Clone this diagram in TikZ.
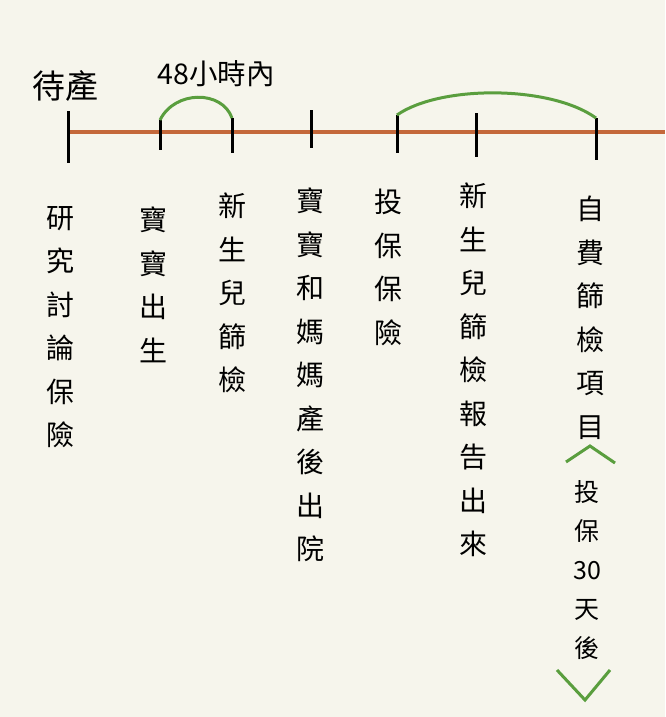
\documentclass[tikz,border=0pt]{standalone}
\usepackage{fontspec}
\newfontfamily\cjk{Noto Sans CJK TC}
\definecolor{bg}{HTML}{F6F5EC}
\definecolor{timeline}{HTML}{C4683A}
\definecolor{arcgreen}{HTML}{5A9E3E}
\begin{document}
\begin{tikzpicture}[x=1pt,y=-1pt,
  tickline/.style={line width=3pt, black},
  mainline/.style={line width=3.2pt, timeline},
  arcline/.style={line width=3pt, arcgreen},
  coltext/.style={font=\cjk\fontsize{28}{43.5}\selectfont, align=center, inner sep=0pt, anchor=north},
  smallcol/.style={font=\cjk\fontsize{25}{39}\selectfont, align=center, inner sep=0pt, anchor=north},
  headtext/.style={font=\cjk\fontsize{33}{36}\selectfont, inner sep=0pt},
  labeltext/.style={font=\cjk\fontsize{28.5}{30}\selectfont, inner sep=0pt}]
\fill[bg] (0,0) rectangle (665,717);
\useasboundingbox (0,0) rectangle (665,717);

% timeline
\coordinate (tstart) at (68,132);
\coordinate (tend) at (665,132);
\draw[mainline] (tstart) -- (tend);

% ticks
\coordinate (k1t) at (68,111);  \coordinate (k1b) at (68,163);
\coordinate (k2t) at (160,120); \coordinate (k2b) at (160,150);
\coordinate (k3t) at (232,118); \coordinate (k3b) at (232,153);
\coordinate (k4t) at (311,110); \coordinate (k4b) at (311,148);
\coordinate (k5t) at (397,115); \coordinate (k5b) at (397,153);
\coordinate (k6t) at (476,113); \coordinate (k6b) at (476,157);
\coordinate (k7t) at (596,118); \coordinate (k7b) at (596,160);
\foreach \k in {1,...,7} {\draw[tickline] (k\k t) -- (k\k b);}

% arcs
\draw[arcline] (k2t) .. controls (175,90) and (222,90) .. (k3t);
\draw[arcline] (k5t) .. controls (440,85) and (550,85) .. (k7t);

% headings
\node[headtext] (wait) at (65,86) {待產};
\node[labeltext] (within) at (216,74) {48小時內};

% columns
\node[coltext] (c1) at (60,206) {研\\究\\討\\論\\保\\險};
\node[coltext] (c2) at (153,207) {寶\\寶\\出\\生};
\node[coltext] (c3) at (232,193) {新\\生\\兒\\篩\\檢};
\node[coltext] (c4) at (310,188) {寶\\寶\\和\\媽\\媽\\產\\後\\出\\院};
\node[coltext] (c5) at (388,189) {投\\保\\保\\險};
\node[coltext] (c6) at (473,183) {新\\生\\兒\\篩\\檢\\報\\告\\出\\來};
\node[coltext] (c7) at (590,196) {自\\費\\篩\\檢\\項\\目};
\node[smallcol] (c8) at (587,480) {投\\保\\30\\天\\後};

% green brackets
\coordinate (u1) at (566,462); \coordinate (u2) at (590,446); \coordinate (u3) at (615,463);
\draw[arcline] (u1) -- (u2) -- (u3);
\coordinate (v1) at (557,670); \coordinate (v2) at (585,700); \coordinate (v3) at (610,670);
\draw[arcline] (v1) -- (v2) -- (v3);
\end{tikzpicture}
\end{document}
